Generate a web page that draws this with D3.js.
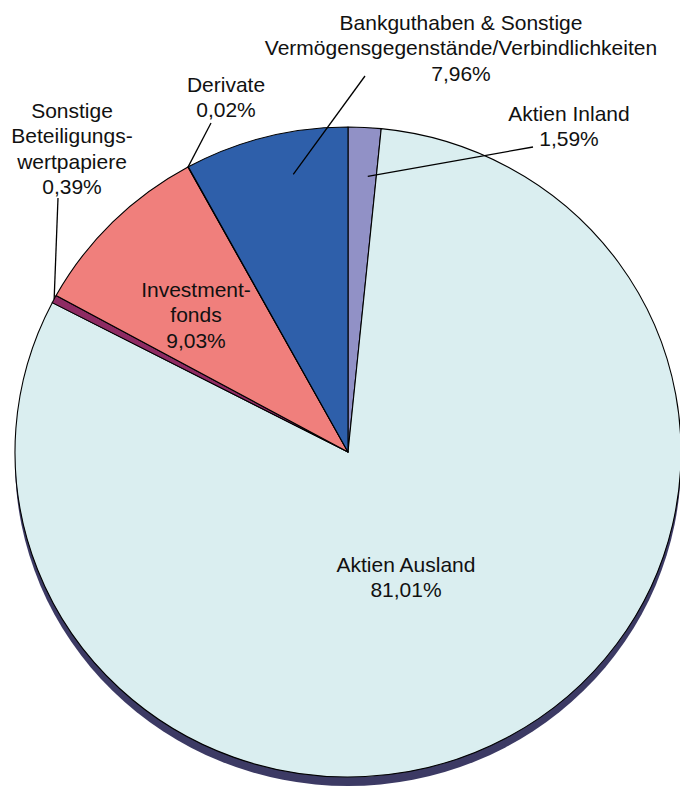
<!DOCTYPE html>
<html><head><meta charset="utf-8">
<script src="https://cdn.jsdelivr.net/npm/d3@7"></script>
<style>body{margin:0;background:#fff}svg{display:block}text{font-family:"Liberation Sans",Arial,Helvetica,sans-serif;font-size:21px;fill:#111}</style>
</head><body><svg id="c" width="680" height="787"></svg>
<script>
// Data
const categories = ["Aktien Inland","Aktien Ausland","Sonstige Beteiligungswertpapiere","Investmentfonds","Derivate","Bankguthaben & Sonstige Vermögensgegenstände/Verbindlichkeiten"];
const values = [1.59, 81.01, 0.39, 9.03, 0.02, 7.96];
const valueLabels = ["1,59%","81,01%","0,39%","9,03%","0,02%","7,96%"];
const labelLines = [["Aktien Inland"],["Aktien Ausland"],["Sonstige","Beteiligungs-","wertpapiere"],["Investment-","fonds"],["Derivate"],["Bankguthaben & Sonstige","Vermögensgegenstände/Verbindlichkeiten"]];
const colors = ["#9191c6","#daeef0","#8e2b63","#f07f7c","#2e5faa","#2e5faa"];

// Layout
const cx = 348, cy = 452, R = 333, sy = 0.976, depth = 9;
const labelPos = [[569,113],[406,564],[72,110],[196,289],[226,84],[461,22]];
const lineH = 25.4;
const leaders = [{r:0.85,t:0.7,to:[533,147]},null,{r:1,t:0.5,to:[58,198]},null,{r:1,t:0.5,to:[211,123]},{r:0.87,t:0.62,to:[365,76]}];

const svg = d3.select("#c");
const pie = d3.pie().sort(null).value(d=>d)(values);
const arc = d3.arc().innerRadius(0).outerRadius(R);

// shadow
svg.append("ellipse").attr("cx",cx).attr("cy",cy+depth).attr("rx",R).attr("ry",R*sy).attr("fill","#3c3a64");

const g = svg.append("g").attr("transform",`translate(${cx},${cy}) scale(1,${sy})`);
g.selectAll("path").data(pie).join("path")
  .attr("d",arc).attr("fill",(d,i)=>colors[i])
  .attr("stroke","#000").attr("stroke-width",1.1).attr("vector-effect","non-scaling-stroke").attr("stroke-linejoin","round");

// leaders
pie.forEach((d,i)=>{
  const L = leaders[i]; if(!L) return;
  const a = d.startAngle + (d.endAngle-d.startAngle)*L.t;
  const x = cx + Math.sin(a)*R*L.r, y = cy - Math.cos(a)*R*L.r*sy;
  svg.append("line").attr("x1",L.to[0]).attr("y1",L.to[1]).attr("x2",x).attr("y2",y)
    .attr("stroke","#000").attr("stroke-width",1.3);
});

// labels
pie.forEach((d,i)=>{
  const lines = labelLines[i].concat([valueLabels[i]]);
  const t = svg.append("text").attr("text-anchor","middle");
  lines.forEach((s,k)=>{
    t.append("tspan").attr("x",labelPos[i][0]).attr("y",labelPos[i][1]+8+k*lineH).text(s);
  });
});
</script></body></html>
